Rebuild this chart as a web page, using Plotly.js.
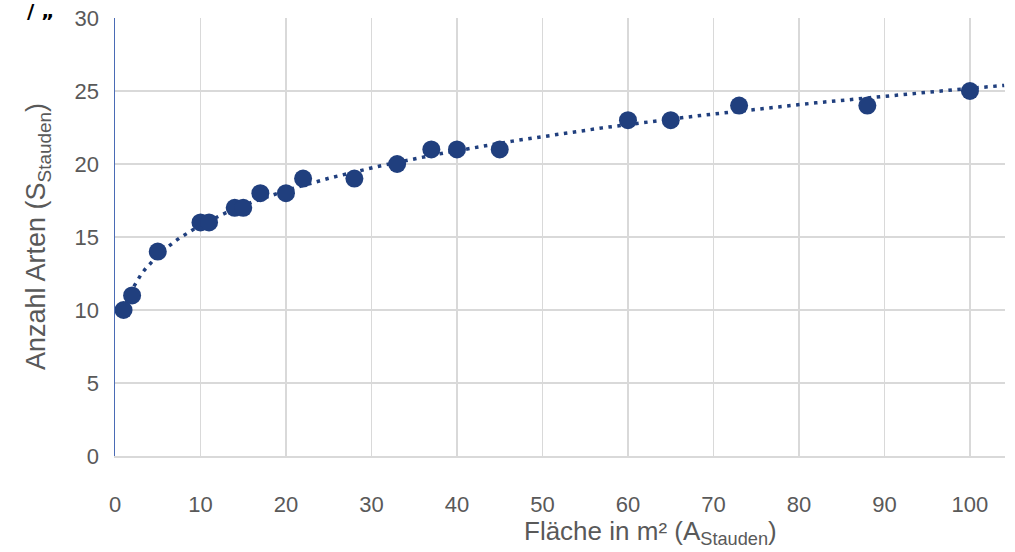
<!DOCTYPE html>
<html><head><meta charset="utf-8">
<script src="https://cdn.plot.ly/plotly-3.0.1.min.js"></script>
<style>html,body{margin:0;padding:0;background:#fff;}</style>
</head><body>
<div id="chart" style="width:1015px;height:552px;"></div>
<script>
const areaM2 = [1, 2, 5, 10, 11, 14, 15, 17, 20, 22, 28, 33, 37, 40, 45, 60, 65, 73, 88, 100];
const species = [10, 11, 14, 16, 16, 17, 17, 18, 18, 19, 19, 20, 21, 21, 21, 23, 23, 24, 24, 25];
const xTicks = [0, 10, 20, 30, 40, 50, 60, 70, 80, 90, 100];
const yTicks = [0, 5, 10, 15, 20, 25, 30];

// power trendline fitted to the data (least squares on logs)
const lx = areaM2.map(Math.log), ly = species.map(Math.log);
const n = lx.length;
const mx = lx.reduce((a,b)=>a+b,0)/n, my = ly.reduce((a,b)=>a+b,0)/n;
let sxy=0, sxx=0;
for (let i=0;i<n;i++){ sxy+=(lx[i]-mx)*(ly[i]-my); sxx+=(lx[i]-mx)*(lx[i]-mx); }
const b = sxy/sxx, a = Math.exp(my - b*mx);
const tx = [], ty = [];
for (let x=1; x<=104.2; x+=0.5){ tx.push(x); ty.push(a*Math.pow(x,b)); }

const navy = '#203f7e';
const grey = '#595959';
const W = 890, H = 438;
const data = [
  {x: tx, y: ty, mode:'lines', line:{color:navy, width:3.5, dash:'3.5px,5.5px'}, hoverinfo:'skip', showlegend:false},
  {x: areaM2, y: species, mode:'markers', marker:{color:navy, size:18}, showlegend:false}
];
const layout = {
  width:1015, height:552,
  margin:{l:115, r:10, t:18, b:96},
  paper_bgcolor:'#fff', plot_bgcolor:'#fff',
  font:{family:'Liberation Sans, Arial, sans-serif', color:grey},
  xaxis:{range:[0,104.1], tickvals:xTicks, ticktext:xTicks.map(String),
    showgrid:true, gridcolor:'#d9d9d9', gridwidth:1.5, zeroline:false,
    showline:true, linecolor:'#d9d9d9', linewidth:1.5,
    ticks:'outside', ticklen:28, tickcolor:'rgba(0,0,0,0)',
    tickfont:{size:22, color:grey}},
  yaxis:{range:[0,30], tickvals:yTicks, ticktext:yTicks.map(String),
    showgrid:true, gridcolor:'#d9d9d9', gridwidth:1.5, zeroline:false,
    showline:true, linecolor:'#4a6bb5', linewidth:1.5,
    ticks:'outside', ticklen:10, tickcolor:'rgba(0,0,0,0)',
    tickfont:{size:22, color:grey}},
  annotations:[
    {xref:'paper', yref:'paper', x:(650-115)/W, y:-(532-456)/H, xanchor:'center', yanchor:'middle',
     text:'Fläche in m² (A<sub>Stauden</sub>)', showarrow:false, font:{size:26, color:grey}},
    {xref:'paper', yref:'paper', x:-(115-38)/W, y:(456-237)/H, xanchor:'center', yanchor:'middle', textangle:-90,
     text:'Anzahl Arten (S<sub>Stauden</sub>)', showarrow:false, font:{size:27, color:grey}},
    {xref:'paper', yref:'paper', x:-(115-25)/W, y:1+(18-11)/H, xanchor:'left', yanchor:'middle',
     text:'<b>/ „</b>', showarrow:false, font:{size:20, color:'#000', family:'DejaVu Sans'}}
  ]
};
Plotly.newPlot('chart', data, layout, {displayModeBar:false, staticPlot:true});
</script>
</body></html>
